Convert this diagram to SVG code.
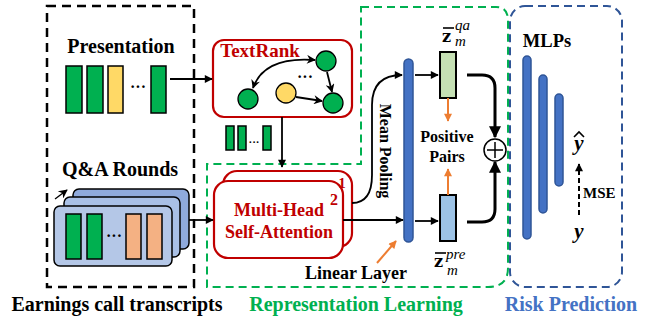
<svg xmlns="http://www.w3.org/2000/svg" width="655" height="322" viewBox="0 0 655 322">
<defs>
<style>
.t{font-family:"Liberation Serif","Times New Roman",serif;font-weight:bold;}
.bk{fill:none;stroke:#000;stroke-width:1.8;}
.bar{stroke:#000;stroke-width:1.5;}
.g{fill:#00B050;}
.y{fill:#FFD966;}
.o{fill:#F4B183;}
.red{fill:none;stroke:#C00000;stroke-width:2.2;}
.blue{fill:#4472C4;stroke:#2F5597;stroke-width:1.5;}
.mi{font-family:"Liberation Serif",serif;font-style:italic;}
</style>
<marker id="ah" viewBox="0 0 10 10" refX="9" refY="5" markerWidth="9" markerHeight="8" markerUnits="userSpaceOnUse" orient="auto-start-reverse">
<path d="M0,0 L10,5 L0,10 z" fill="#000"/>
</marker>
<marker id="ahs" viewBox="0 0 10 10" refX="9" refY="5" markerWidth="12" markerHeight="9" markerUnits="userSpaceOnUse" orient="auto-start-reverse">
<path d="M0,0 L10,5 L0,10 L3,5 z" fill="#000"/>
</marker>
<marker id="ahT" viewBox="0 0 10 10" refX="9" refY="5" markerWidth="12" markerHeight="12" markerUnits="userSpaceOnUse" orient="auto">
<path d="M0,0 L10,5 L0,10 z" fill="#000"/>
</marker>
<marker id="ao" viewBox="0 0 10 10" refX="9" refY="5" markerWidth="9" markerHeight="8" markerUnits="userSpaceOnUse" orient="auto">
<path d="M0,0 L10,5 L0,10 z" fill="#ED7D31"/>
</marker>
</defs>

<!-- region boxes -->
<g id="transcripts-box">
<rect x="47" y="6" width="147" height="281" fill="none" stroke="#000" stroke-width="2.5" stroke-dasharray="9 6"/>
</g>
<g id="rep-box">
<path d="M361,7 L496,7 Q508,7 508,20 L508,268 Q508,287 488,287 L207,287 L207,164 L361,164 Z" fill="none" stroke="#00B050" stroke-width="2" stroke-dasharray="8 5"/>
</g>
<g id="risk-box">
<rect x="510" y="6" width="112" height="281" rx="15" fill="none" stroke="#2F5597" stroke-width="2" stroke-dasharray="8 5"/>
</g>

<!-- Presentation -->
<g id="presentation">
<text class="t" x="121" y="53" font-size="20" text-anchor="middle">Presentation</text>
<rect class="bar g" x="66" y="66" width="16" height="47"/>
<rect class="bar g" x="87" y="66" width="16" height="47"/>
<rect class="bar y" x="108" y="66" width="15" height="47"/>
<text class="t" x="138" y="92" font-size="16" text-anchor="middle">···</text>
<rect class="bar g" x="151" y="66" width="15" height="47"/>
</g>

<!-- Q&A -->
<g id="qa-rounds">
<text class="t" x="120" y="176" font-size="20" text-anchor="middle">Q&amp;A Rounds</text>
<rect x="73" y="189" width="116" height="60" rx="6" fill="#8FAADC" stroke="#000" stroke-width="1.5"/>
<rect x="64" y="197" width="116" height="60" rx="6" fill="#A9C0E6" stroke="#000" stroke-width="1.5"/>
<rect x="54" y="206" width="118" height="60" rx="6" fill="#B4C7E7" stroke="#000" stroke-width="1.5"/>
<rect class="bar g" x="66" y="214" width="15" height="45"/>
<rect class="bar g" x="87" y="214" width="15" height="45"/>
<text class="t" x="114" y="241" font-size="16" text-anchor="middle">···</text>
<rect class="bar o" x="126" y="214" width="15" height="45"/>
<rect class="bar o" x="147" y="214" width="15" height="45"/>
</g>

<!-- TextRank -->
<g id="textrank">
<rect class="red" x="213" y="40" width="139" height="77" rx="11"/>
<text class="t" x="260" y="57" font-size="19" fill="#C00000" text-anchor="middle">TextRank</text>
<circle cx="326" cy="61" r="10" fill="#00B050" stroke="#000" stroke-width="1.3"/>
<circle cx="248" cy="99" r="10" fill="#00B050" stroke="#000" stroke-width="1.3"/>
<circle cx="286" cy="93" r="10" fill="#FFD966" stroke="#000" stroke-width="1.3"/>
<circle cx="333" cy="103" r="10" fill="#00B050" stroke="#000" stroke-width="1.3"/>
<text class="t" x="305" y="82" font-size="16" text-anchor="middle">···</text>
<path class="bk" d="M315,60 Q264,56 253,88" marker-start="url(#ahs)" marker-end="url(#ahs)"/>
<path class="bk" d="M327,72 L332,92" marker-end="url(#ahs)"/>
<path class="bk" d="M296,97 L322,101" marker-end="url(#ahs)"/>
</g>

<g id="selected-sentences">
<rect class="bar g" x="226" y="126" width="8" height="24"/>
<rect class="bar g" x="238" y="126" width="8" height="24"/>
<text class="t" x="254" y="146" font-size="11" text-anchor="middle">···</text>
<rect class="bar g" x="263" y="126" width="8" height="24"/>
</g>

<!-- Multi-Head Self-Attention -->
<g id="mhsa">
<rect x="223" y="171" width="129" height="76" rx="14" fill="#fff" stroke="#C00000" stroke-width="2.2"/>
<rect x="214" y="181" width="129" height="77" rx="14" fill="#fff" stroke="#C00000" stroke-width="2.2"/>
<text class="t" x="342" y="188" font-size="15" fill="#C00000" text-anchor="middle">1</text>
<text class="t" x="334" y="205" font-size="16" fill="#C00000" text-anchor="middle">2</text>
<text class="t" x="279" y="216" font-size="18" fill="#C00000" text-anchor="middle">Multi-Head</text>
<text class="t" x="279" y="238" font-size="18" fill="#C00000" text-anchor="middle">Self-Attention</text>
</g>

<!-- Linear layer bar -->
<g id="linear-layer">
<rect class="blue" x="404" y="59" width="9" height="183" rx="4.5"/>
<text class="t" x="356" y="279" font-size="18" text-anchor="middle">Linear Layer</text>
</g>

<g id="mean-pooling-label">
<text class="t" transform="translate(380,151) rotate(90)" x="0" y="0" font-size="16" text-anchor="middle">Mean Pooling</text>
</g>

<!-- z boxes -->
<g id="z-qa">
<rect x="440" y="52" width="16" height="46" fill="#C5E0B4" stroke="#000" stroke-width="2"/>
<text x="442" y="42" font-family="'DejaVu Serif',serif" font-weight="bold" font-size="16">z</text>
<line x1="443" y1="28" x2="454" y2="28" stroke="#000" stroke-width="1.6"/>
<text class="mi" x="455" y="46" font-size="15">m</text>
<text class="mi" x="455" y="30" font-size="15">qa</text>
</g>
<g id="z-pre">
<rect x="440" y="195" width="16" height="46" fill="#9DC3E6" stroke="#000" stroke-width="2"/>
<text x="434" y="267" font-family="'DejaVu Serif',serif" font-weight="bold" font-size="16">z</text>
<line x1="435" y1="253" x2="446" y2="253" stroke="#000" stroke-width="1.6"/>
<text class="mi" x="447" y="275" font-size="15">m</text>
<text class="mi" x="446" y="259" font-size="15">pre</text>
</g>

<g id="positive-pairs">
<text class="t" x="447" y="142" font-size="16" text-anchor="middle">Positive</text>
<text class="t" x="447" y="162" font-size="16" text-anchor="middle">Pairs</text>
</g>

<g id="plus">
<circle cx="495" cy="150" r="11" fill="#fff" stroke="#000" stroke-width="1.5"/>
<path d="M487,150 H503 M495,142 V158" stroke="#000" stroke-width="1.5"/>
</g>

<!-- MLPs -->
<g id="mlps">
<text class="t" x="547" y="47" font-size="18.5" text-anchor="middle">MLPs</text>
<rect class="blue" x="523" y="56" width="8" height="183" rx="4"/>
<rect class="blue" x="539" y="75" width="8" height="138" rx="4"/>
<rect class="blue" x="555" y="94" width="8" height="92" rx="4"/>
</g>

<g id="y-hat">
<text x="579" y="150" font-family="'Liberation Serif',serif" font-weight="bold" font-style="italic" font-size="21" text-anchor="middle">y</text>
<path d="M574,137 L579,132 L584,137" fill="none" stroke="#000" stroke-width="1.6"/>
</g>
<g id="y-true">
<text x="579" y="238" font-family="'Liberation Serif',serif" font-weight="bold" font-style="italic" font-size="21" text-anchor="middle">y</text>
</g>
<text class="t" x="583" y="198" font-size="15">MSE</text>

<!-- connectors -->
<g id="connectors">
<path class="bk" d="M170,79 H212" marker-end="url(#ah)"/>
<path class="bk" d="M189,220 H213" marker-end="url(#ah)"/>
<path class="bk" d="M282,117 V167" marker-end="url(#ah)"/>
<path class="bk" d="M343,220 H403" marker-end="url(#ah)"/>
<path class="bk" d="M352,203 Q372,203 372,175 L372,105 Q372,75 402,75" marker-end="url(#ah)"/>
<path class="bk" d="M415,75 H438" marker-end="url(#ah)"/>
<path class="bk" d="M415,221 H438" marker-end="url(#ah)"/>
<path d="M448,98 V121" stroke="#ED7D31" stroke-width="2" marker-end="url(#ao)"/>
<path d="M448,195 V169" stroke="#ED7D31" stroke-width="2" marker-end="url(#ao)"/>
<path d="M377,263 L396,241" stroke="#ED7D31" stroke-width="2" marker-end="url(#ao)"/>
<path d="M467,75 H482 Q495,75 495,88 V137" fill="none" stroke="#000" stroke-width="3" marker-end="url(#ahT)"/>
<path d="M467,222 H482 Q495,222 495,209 V162" fill="none" stroke="#000" stroke-width="3" marker-end="url(#ahT)"/>
<path d="M579,215 V164" fill="none" stroke="#000" stroke-width="2" stroke-dasharray="5 3" marker-end="url(#ah)"/>
<path d="M55,199 L67,190" fill="none" stroke="#000" stroke-width="1.3" marker-end="url(#ahs)"/>
</g>

<!-- bottom labels -->
<text class="t" x="117" y="311" font-size="20" text-anchor="middle">Earnings call transcripts</text>
<text class="t" x="356" y="311" font-size="20" text-anchor="middle" fill="#00B050">Representation Learning</text>
<text class="t" x="571" y="311" font-size="20" text-anchor="middle" fill="#4472C4">Risk Prediction</text>
</svg>
